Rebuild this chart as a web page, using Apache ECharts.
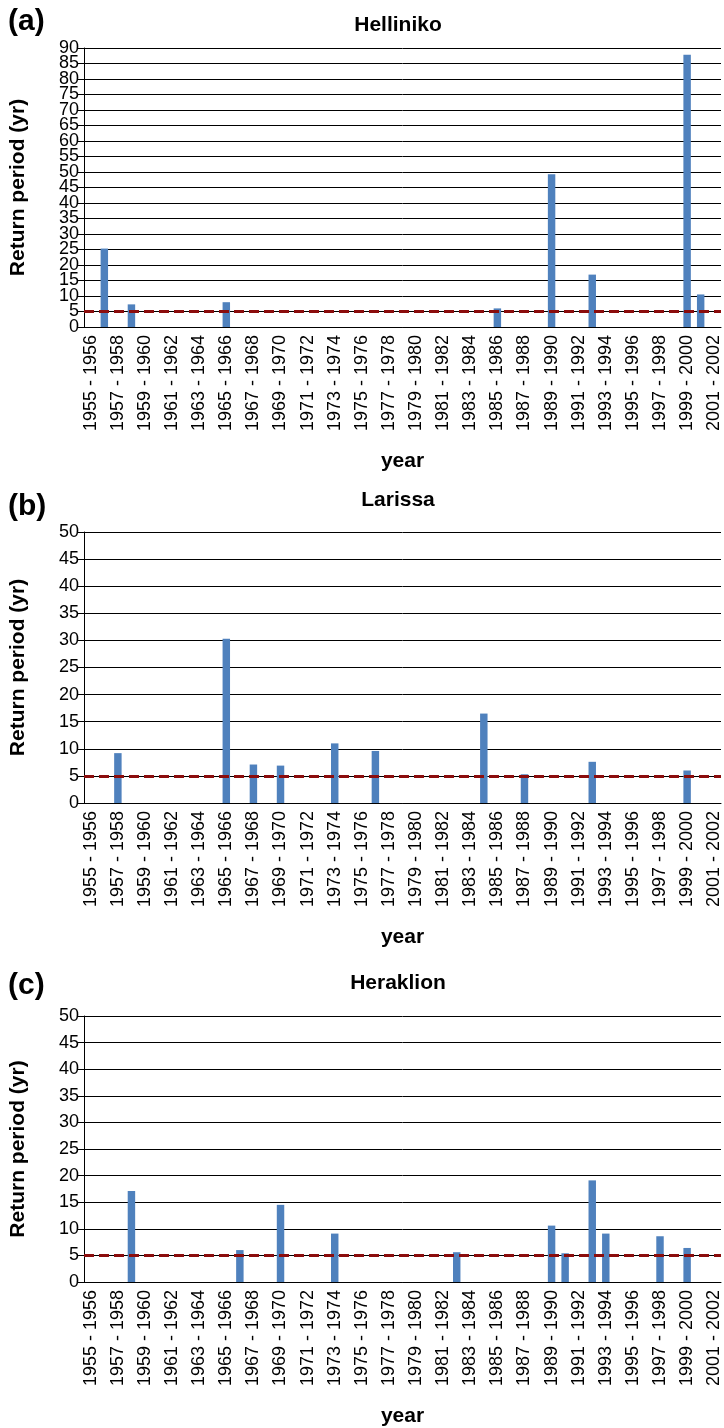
<!DOCTYPE html>
<html>
<head>
<meta charset="utf-8">
<script src="https://cdn.jsdelivr.net/npm/echarts@6/dist/echarts.min.js"></script>
<style>
  html, body { margin: 0; padding: 0; background: #fff; }
  #chart { width: 724px; height: 1428px; }
</style>
</head>
<body>
<div id="chart"></div>
<script>
// hydrological years
var years = [
  '1955 - 1956', '1956 - 1957', '1957 - 1958', '1958 - 1959', '1959 - 1960',
  '1960 - 1961', '1961 - 1962', '1962 - 1963', '1963 - 1964', '1964 - 1965',
  '1965 - 1966', '1966 - 1967', '1967 - 1968', '1968 - 1969', '1969 - 1970',
  '1970 - 1971', '1971 - 1972', '1972 - 1973', '1973 - 1974', '1974 - 1975',
  '1975 - 1976', '1976 - 1977', '1977 - 1978', '1978 - 1979', '1979 - 1980',
  '1980 - 1981', '1981 - 1982', '1982 - 1983', '1983 - 1984', '1984 - 1985',
  '1985 - 1986', '1986 - 1987', '1987 - 1988', '1988 - 1989', '1989 - 1990',
  '1990 - 1991', '1991 - 1992', '1992 - 1993', '1993 - 1994', '1994 - 1995',
  '1995 - 1996', '1996 - 1997', '1997 - 1998', '1998 - 1999', '1999 - 2000',
  '2000 - 2001', '2001 - 2002'
];

// return period (yr), one value per year, null = no bar
var helliniko = [
  null, 25.3, null, 7.3, null, null, null, null, null, null,
  8.0, null, null, null, null, null, null, null, null, null,
  null, null, null, null, null, null, null, null, null, null,
  6.0, null, null, null, 49.3, null, null, 16.9, null, null,
  null, null, null, null, 87.8, 10.5, null
];
var larissa = [
  null, null, 9.2, null, null, null, null, null, null, null,
  30.3, null, 7.1, null, 6.9, null, null, null, 11.0, null,
  null, 9.6, null, null, null, null, null, null, null, 16.5,
  null, null, 5.3, null, null, null, null, 7.6, null, null,
  null, null, null, null, 6.0, null, null
];
var heraklion = [
  null, null, null, 17.1, null, null, null, null, null, null,
  null, 6.0, null, null, 14.5, null, null, null, 9.1, null,
  null, null, null, null, null, null, null, 5.6, null, null,
  null, null, null, null, 10.6, 5.4, null, 19.1, 9.1, null,
  null, null, 8.6, null, 6.4, null, null
];

// Helliniko y tick labels (packed tightly, split in two sets so none get dropped)
var hellinikoTicksEven = [0, 10, 20, 30, 40, 50, 60, 70, 80, 90];
var hellinikoTicksOdd = [5, 15, 25, 35, 45, 55, 65, 75, 85];

var threshold = 5;
var yMax = [90, 50, 50];
var stations = ['Helliniko', 'Larissa', 'Heraklion'];
var letters = ['(a)', '(b)', '(c)'];

var FONT = 'Liberation Sans, Arial, sans-serif';
var gridTops = [48, 532, 1016];
var gridHeights = [279, 271, 271];
var titleY = [25, 500, 983];
var letterY = [22, 507, 986];

var chart = echarts.init(document.getElementById('chart'), null, { renderer: 'canvas' });

var grids = [], xAxes = [], yAxes = [], series = [], graphics = [];
var allData = [helliniko, larissa, heraklion];
var labelStyle = { fontFamily: FONT, fontSize: 18, color: '#000', margin: 5 };

for (var i = 0; i < 3; i++) {
  grids.push({ left: 73, right: 3, top: gridTops[i], height: gridHeights[i], containLabel: false });
  xAxes.push({
    type: 'category', gridIndex: i, data: years,
    boundaryGap: true,
    name: 'year', nameLocation: 'middle', nameGap: 124,
    nameTextStyle: { fontFamily: FONT, fontWeight: 'bold', fontSize: 21, color: '#000' },
    axisLine: { lineStyle: { color: '#000', width: 1 } },
    axisTick: { interval: 0, length: 6, lineStyle: { color: '#000' } },
    axisLabel: { interval: 1, rotate: 90, fontFamily: FONT, fontSize: 18, color: '#000', margin: 8, hideOverlap: false },
    splitLine: { show: false }
  });
  var lab = Object.assign({ showMinLabel: true, showMaxLabel: true }, labelStyle);
  if (i === 0) lab.customValues = hellinikoTicksEven;
  yAxes.push({
    type: 'value', gridIndex: i, min: 0, max: yMax[i], interval: 5, position: 'left',
    name: 'Return period (yr)', nameLocation: 'middle', nameGap: 55,
    nameTextStyle: { fontFamily: FONT, fontWeight: 'bold', fontSize: 21, color: '#000' },
    axisLine: { show: true, lineStyle: { color: '#000', width: 1 } },
    axisTick: { show: true, length: 6, lineStyle: { color: '#000' } },
    axisLabel: lab,
    splitLine: { show: true, lineStyle: { color: '#000', width: 1 } }
  });
  series.push({
    type: 'bar', xAxisIndex: i, yAxisIndex: i, data: allData[i],
    barWidth: '55%',
    itemStyle: { color: '#4f81bd' },
    markLine: {
      silent: true, symbol: 'none', label: { show: false },
      lineStyle: { color: '#8b0d0d', width: 3, type: [10, 5] },
      data: [{ yAxis: threshold }]
    }
  });
  graphics.push({
    type: 'text', x: 398, y: titleY[i],
    style: { text: stations[i], font: 'bold 21px ' + FONT, fill: '#000', textAlign: 'center', textVerticalAlign: 'middle' }
  });
  graphics.push({
    type: 'text', x: 8, y: letterY[i],
    style: { text: letters[i], font: 'bold 30px ' + FONT, fill: '#000', textAlign: 'left', textVerticalAlign: 'middle' }
  });
}

// second label-only axis on panel (a) for the odd ticks
yAxes.push({
  type: 'value', gridIndex: 0, min: 0, max: yMax[0], interval: 5, position: 'left', offset: 0,
  axisLine: { show: false }, axisTick: { show: false }, splitLine: { show: false },
  axisLabel: Object.assign({ customValues: hellinikoTicksOdd, showMinLabel: true, showMaxLabel: true }, labelStyle)
});

chart.setOption({
  animation: false,
  backgroundColor: '#fff',
  grid: grids,
  xAxis: xAxes,
  yAxis: yAxes,
  series: series,
  graphic: graphics
});
</script>
</body>
</html>
